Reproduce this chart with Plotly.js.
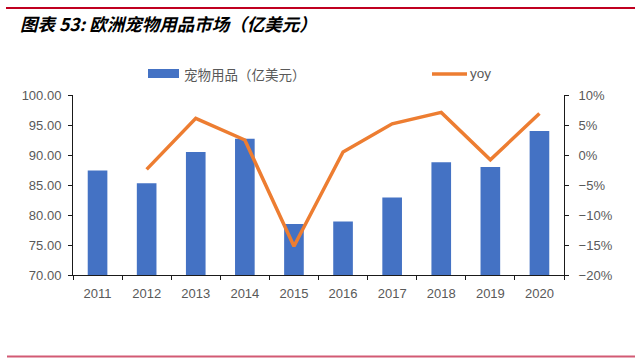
<!DOCTYPE html>
<html>
<head>
<meta charset="utf-8">
<script src="https://cdn.plot.ly/plotly-3.0.1.min.js"></script>
<style>html,body{margin:0;padding:0;background:#fff;}#chart{width:641px;height:360px;}</style>
</head>
<body>
<div id="chart"></div>
<script>
const years = ['2011','2012','2013','2014','2015','2016','2017','2018','2019','2020'];
const marketValues = [87.4, 85.3, 90.5, 92.7, 78.5, 78.9, 82.9, 88.8, 88.0, 94.0];
const yoyValues = [null, -2.4, 6.1, 2.5, -15.2, 0.5, 5.2, 7.1, -0.8, 6.9];
const barName = '宠物用品（亿美元）';
const lineName = 'yoy';
const titleText = '图表 53:&nbsp;欧洲宠物用品市场（亿美元）';

const W = 641, H = 360;
const M = {l: 73, r: 77, t: 95, b: 85};
const pw = W - M.l - M.r, ph = H - M.t - M.b;
const px = x => (x - M.l) / pw;
const py = y => (H - M.b - y) / ph;

const tickFont = {family: 'Liberation Sans, Arial, sans-serif', size: 13, color: '#595959'};
const axisColor = '#1a1a1a';

const traces = [
  {type: 'bar', x: years, y: marketValues, name: barName, marker: {color: '#4472C4'}, yaxis: 'y', showlegend: false, hoverinfo: 'skip'},
  {type: 'scatter', mode: 'lines', x: years, y: yoyValues, name: lineName, line: {color: '#ED7D31', width: 3.5}, yaxis: 'y2', showlegend: false, hoverinfo: 'skip'}
];

const layout = {
  width: W, height: H,
  margin: M,
  paper_bgcolor: '#fff', plot_bgcolor: '#fff',
  bargap: 0.6,
  title: {text: '<b><i>' + titleText + '</i></b>', x: 20 / W, xanchor: 'left', xref: 'container', y: 1 - 25 / H, yanchor: 'middle', yref: 'container',
          font: {family: 'Noto Sans CJK SC, sans-serif', size: 17.5, color: '#000'}},
  xaxis: {type: 'category', range: [-0.5, 9.5], showline: true, linecolor: axisColor, linewidth: 1, ticks: 'outside', tickson: 'boundaries', ticklen: 4, tickcolor: axisColor, showgrid: false, zeroline: false, tickfont: tickFont, ticklabelstandoff: 6},
  yaxis: {range: [70, 100], dtick: 5, tick0: 70, tickformat: '.2f', showline: true, linecolor: axisColor, linewidth: 1, ticks: 'outside', ticklen: 4, tickcolor: axisColor, showgrid: false, zeroline: false, tickfont: tickFont, ticklabelstandoff: 4},
  yaxis2: {range: [-20, 10], dtick: 5, tick0: -20, ticksuffix: '%', overlaying: 'y', side: 'right', showline: true, linecolor: axisColor, linewidth: 1, ticks: 'outside', ticklen: 4, tickcolor: axisColor, showgrid: false, zeroline: false, tickfont: tickFont, ticklabelstandoff: 7},
  shapes: [
    {type: 'line', xref: 'paper', yref: 'paper', x0: px(6), x1: px(635), y0: py(8), y1: py(8), line: {color: '#C00020', width: 2}},
    {type: 'line', xref: 'paper', yref: 'paper', x0: px(7), x1: px(635), y0: py(356.5), y1: py(356.5), line: {color: '#D25A74', width: 2}},
    {type: 'rect', xref: 'paper', yref: 'paper', x0: px(148), x1: px(179), y0: py(78), y1: py(69), fillcolor: '#4472C4', line: {width: 0}},
    {type: 'line', xref: 'paper', yref: 'paper', x0: px(432), x1: px(467), y0: py(74), y1: py(74), line: {color: '#ED7D31', width: 3.5}}
  ],
  annotations: [
    {text: barName, xref: 'paper', yref: 'paper', x: px(182), y: py(73.5), xanchor: 'left', yanchor: 'middle', showarrow: false, font: {family: 'Noto Sans CJK SC, sans-serif', size: 13.5, color: '#595959'}},
    {text: lineName, xref: 'paper', yref: 'paper', x: px(468), y: py(73.5), xanchor: 'left', yanchor: 'middle', showarrow: false, font: {family: 'Liberation Sans, Arial, sans-serif', size: 13.5, color: '#595959'}}
  ]
};

Plotly.newPlot('chart', traces, layout, {staticPlot: true, displayModeBar: false});
</script>
</body>
</html>
